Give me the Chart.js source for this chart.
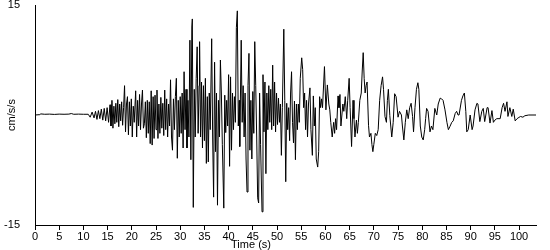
<!DOCTYPE html>
<html>
<head>
<meta charset="utf-8">
<script src="https://cdn.jsdelivr.net/npm/chart.js@4.4.0/dist/chart.umd.min.js"></script>
<style>
  html, body { margin: 0; padding: 0; background: #fff; }
  #wrap { width: 550px; height: 250px; }
</style>
</head>
<body>
<div id="wrap"><canvas id="myChartAccel" width="550" height="250"></canvas></div>
<script>
// time in seconds (peaks and troughs)
const times = [
  0, 1, 1.2, 2, 3, 4, 5, 6, 7, 7.5, 8, 9, 10, 11,
  11.4, 11.8, 12.2, 12.5, 12.8, 13.1, 13.4, 13.7, 14.0, 14.3, 14.6, 14.9, 15.2,
  15.5, 15.7, 15.9, 16.1, 16.3, 16.5, 16.7, 16.9, 17.1, 17.3, 17.5, 17.7, 17.9, 18.1, 18.3, 18.5, 18.7, 18.9,
  19.1, 19.3, 19.5, 19.7, 19.9, 20.1, 20.3, 20.5, 20.8, 21.0, 21.2, 21.4, 21.6, 21.8, 22.0, 22.2, 22.4, 22.6,
  22.8, 23.0, 23.2, 23.4, 23.6, 23.8, 24.0, 24.2, 24.4, 24.6,
  24.8, 25.0, 25.2, 25.4, 25.6, 25.8, 26.0, 26.2, 26.4, 26.6, 26.8, 27.0, 27.2, 27.4, 27.6, 27.8, 28.0, 28.2,
  28.4, 28.6, 28.8, 29.0, 29.2, 29.4, 29.6, 29.8, 30.0, 30.2, 30.4, 30.6, 30.8, 31.0, 31.2, 31.4, 31.6, 31.8,
  32.0, 32.2, 32.4, 32.5, 32.7, 32.9, 33.1, 33.3, 33.5, 33.7, 33.9, 34.0, 34.2, 34.4, 34.6, 34.8, 35.0, 35.2,
  35.4, 35.6, 35.8, 36.0, 36.2, 36.5, 36.7, 36.9, 37.1, 37.3, 37.5, 37.7, 37.9, 38.1, 38.3, 38.5, 38.7, 39.0,
  39.2, 39.4, 39.6, 39.8, 40.0, 40.2, 40.4, 40.6, 40.8, 41.0, 41.2, 41.4, 41.6, 41.8, 42.0, 42.2, 42.3, 42.6,
  42.8, 43.0, 43.2, 43.4, 43.6, 43.8, 44.0, 44.2, 44.4, 44.6, 44.8, 45.0, 45.2, 45.4, 45.6, 45.8, 46.0, 46.2,
  46.4, 46.6, 46.9, 47.1, 47.3, 47.5, 47.7, 47.9, 48.1, 48.3, 48.5, 48.7, 48.9, 49.1, 49.3, 49.5, 49.7, 49.9,
  50.1, 50.3, 50.5, 50.7, 50.9, 51.1, 51.4, 51.6, 51.8, 52.0, 52.2, 52.4, 52.6, 52.8, 53.0, 53.2, 53.4, 53.6,
  53.8, 54.0, 54.2, 54.4, 54.6, 54.8, 55.1, 55.3, 55.5, 55.7, 55.9, 56.1, 56.3, 56.5, 56.8, 57.0, 57.3, 57.5,
  57.7, 57.9, 58.1, 58.4, 58.6, 58.8, 59.0, 59.2, 59.4, 59.8, 60.1, 60.4, 60.7, 60.9, 61.1, 61.4, 61.7, 61.9,
  62.1, 62.3, 62.6, 62.8, 63.0, 63.2, 63.4, 63.6, 63.8, 64.1, 64.4, 64.6, 64.9, 65.1, 65.4, 65.7, 65.9, 66.1,
  66.4, 66.6, 66.8, 67.1, 67.4, 67.6, 67.8, 68.0, 68.2, 68.4, 68.6, 68.9, 69.1, 69.4, 69.6, 69.8, 70.0, 70.3,
  70.6, 70.9, 71.2, 71.5, 71.8, 72.0, 72.3, 72.6, 72.8, 73.0, 73.3, 73.7, 74.0, 74.3, 74.6, 75.0, 75.3, 75.7,
  75.9, 76.2, 76.5, 76.8, 77.1, 77.4, 77.7, 78.0, 78.2, 78.5, 78.8, 79.1, 79.3, 79.6, 79.9, 80.2, 80.5, 80.7,
  80.9, 81.2, 81.6, 81.9, 82.2, 82.6, 83.0, 83.3, 83.7, 84.0, 84.3, 84.7, 85.1, 85.4, 85.7, 86.1, 86.4, 86.8,
  87.1, 87.4, 87.6, 88.1, 88.4, 88.7, 89.0, 89.2, 89.5, 89.9, 90.3, 90.5, 90.9, 91.3, 91.5, 91.9, 92.3, 92.6,
  92.9, 93.4, 93.6, 94.0, 94.4, 94.7, 95.0, 95.4, 96.1, 96.5, 96.8, 97.1, 97.5, 97.7, 98.1, 98.5, 98.8, 99.2,
  99.6, 99.8, 100.3, 100.8, 101.2, 102.0, 103.5
];

// acceleration in cm/s/s at each time above
const accel = [
  0, 0.05, 0.15, 0.1, 0.12, 0.08, 0.12, 0.1, 0.12, 0.2, 0.1, 0.12, 0.1, 0.1,
  -0.3, 0.4, -0.4, 0.5, -0.6, 0.6, -0.5, 0.8, -0.7, 0.9, -0.8, 1.0, -1.0,
  1.4, -1.5, 2.0, -1.8, 1.2, -1.2, 1.6, -1.0, 2.1, -1.6, 1.5, -0.8, 1.8, -1.4, 1.0, 4.0, -2.3, 1.5,
  2.5, -2.7, 1.8, -1.5, 2.2, -3.0, 1.2, -1.0, 3.3, -3.0, 2.0, -1.5, 2.8, -2.0, 1.5, 3.4, -1.8, -1.2,
  1.8, -3.1, 2.0, -2.5, 1.8, -3.9, 3.3, -4.1, 2.5, -3.2,
  2.7, -2.0, 3.4, -3.2, 1.5, -2.5, 2.4, -1.8, 1.6, -2.8, 3.4, -2.0, 2.2, -3.0, 1.5, -1.5, 4.8, -3.0,
  -4.8, 2.2, -2.0, 2.5, 5.0, -5.9, 2.0, -3.0, 2.5, -2.5, 3.0, -4.5, 5.9, -2.0, 3.5, -4.5, 2.0, -3.0,
  10.2, -6.1, 12.0, 13.1, -12.6, 3.5, -3.0, 5.0, 9.3, -2.5, 4.0, 10.0, -3.0, 4.5, -4.5, 4.0, -3.5, 5.0,
  -6.6, 2.5, -6.4, 3.0, -2.0, 10.4, -3.0, -11.2, 7.2, -5.0, 3.0, -12.3, 2.0, -3.0, 7.5, 3.0, -4.0, -12.7,
  2.7, -2.4, 2.0, -1.5, 5.5, -7.0, 5.2, -4.8, 3.0, -2.0, 2.5, -1.0, 11.9, 14.2, -1.5, 2.0, -4.3, 10.2,
  -1.0, 4.0, -3.0, 3.0, -6.0, -10.5, 4.0, 8.4, -4.8, 2.0, -6.0, 3.2, -2.5, 10.0, 4.0, -3.0, -11.3, -12.0,
  3.0, -4.0, -13.2, 5.5, -2.3, 4.5, -8.0, 3.0, -2.0, 4.0, -1.0, 3.5, -2.0, 6.8, -1.5, 4.5, -2.3, 3.0,
  -1.3, 2.3, -1.0, 1.5, -5.5, 1.0, 11.7, 2.0, -9.1, 1.6, -2.0, 1.0, -3.5, 3.0, 5.9, -1.0, -3.8, 1.9,
  -6.1, 1.5, -2.0, 1.5, -1.0, 5.0, 7.8, 6.2, 1.0, 3.0, -2.0, 2.0, -3.0, 1.5, 3.7, -2.0, -5.5, 2.6,
  -1.5, 1.0, -6.0, -7.1, -5.0, 2.5, 1.0, 2.2, 1.0, 6.6, 0.7, 4.1, 1.5, 0.7, -1.0, -3.0, -1.0, -2.5,
  -0.5, -2.0, 2.6, 1.0, 2.8, -1.5, 0.0, 1.5, 0.5, 2.5, -0.5, 2.0, 5.0, 1.0, -4.3, 2.0, -0.5, -3.0,
  -0.7, -2.5, -1.0, 2.0, 3.0, 6.0, 8.5, 5.0, 3.0, 4.0, 4.5, -1.4, -3.0, -2.5, -4.0, -5.0, -4.0, -2.5,
  -2.8, -2.0, 2.0, 4.0, 5.2, 3.5, -0.2, -1.0, 2.0, 3.5, -0.1, -3.0, -1.0, 2.9, 2.5, -0.3, 0.5, 0.0,
  -1.5, -3.4, -1.0, 0.7, -0.5, 1.0, 1.6, -0.2, -2.3, 1.0, 3.5, 4.4, 3.5, -1.5, -3.0, -3.4, -2.0, -0.5,
  0.9, 0.5, -2.3, -1.5, -2.0, 0.9, 0.0, 1.5, 2.3, 2.2, 2.0, 0.7, -1.0, -2.0, -1.6, -1.0, -0.8, 0.2,
  0.5, 0.0, 0.0, 2.0, 2.6, 3.0, 0.5, -2.3, -2.0, 0.0, -2.0, -1.5, 0.7, 1.6, 1.5, -0.9, 0.5, 0.9,
  -0.9, 1.0, 1.0, -1.1, 0.6, -1.0, -0.7, -0.5, -0.5, 1.0, 1.6, 0.5, 1.8, -0.2, 1.0, -0.2, 0.8, -0.8,
  -0.5, -0.4, -0.2, -0.3, -0.1, 0.0, 0.0
];

const xTicks = [0, 5, 10, 15, 20, 25, 30, 35, 40, 45, 50, 55, 60, 65, 70, 75, 80, 85, 90, 95, 100];
const yTicks = [-15, 15];

const points = times.map((t, i) => ({ x: t, y: accel[i] }));

Chart.defaults.font.family = "'Liberation Sans', Arial, sans-serif";
Chart.defaults.font.size = 11;
Chart.defaults.color = "#000";

// x title sits left of centre in the original, so draw it by hand
const timeTitle = {
  id: "timeTitle",
  afterDraw(chart) {
    const ctx = chart.ctx;
    ctx.save();
    ctx.font = "11px 'Liberation Sans', Arial, sans-serif";
    ctx.fillStyle = "#000";
    ctx.textAlign = "center";
    ctx.textBaseline = "middle";
    ctx.fillText("Time (s)", 251, 245);
    ctx.restore();
  },
};

const canvas_accel = document.getElementById("myChartAccel");
let myChart_accel = new Chart(canvas_accel, {
  type: "line",
  data: {
    datasets: [
      {
        data: points,
        borderColor: "#000",
        borderWidth: 1,
        pointRadius: 0,
        tension: 0,
        fill: false,
      },
    ],
  },
  options: {
    responsive: false,
    animation: false,
    events: [],
    layout: { padding: { top: 5, right: 14, left: 0, bottom: 0 } },
    plugins: { legend: { display: false }, tooltip: { enabled: false } },
    scales: {
      x: {
        type: "linear",
        min: 0,
        max: 103.5,
        afterBuildTicks: (scale) => {
          scale.ticks = xTicks.map((v) => ({ value: v }));
        },
        afterFit: (scale) => {
          scale.height = 25;
          scale.paddingLeft = 0;
          scale.paddingRight = 0;
        },
        grid: {
          display: true,
          drawOnChartArea: false,
          drawTicks: true,
          tickLength: 5,
          color: "#000",
        },
        border: { display: true, color: "#000" },
        ticks: { padding: 0, maxRotation: 0, autoSkip: false },
        title: { display: false },
      },
      y: {
        min: -15,
        max: 15,
        afterBuildTicks: (scale) => {
          scale.ticks = yTicks.map((v) => ({ value: v }));
        },
        afterFit: (scale) => {
          scale.width = 35;
          scale.paddingTop = 0;
          scale.paddingBottom = 0;
        },
        grid: { display: false, drawTicks: false },
        border: { display: true, color: "#000" },
        ticks: { padding: 15 },
        title: {
          display: true,
          text: "cm/s/s",
          padding: { top: 5, bottom: 0 },
        },
      },
    },
  },
  plugins: [timeTitle],
});
</script>
</body>
</html>
